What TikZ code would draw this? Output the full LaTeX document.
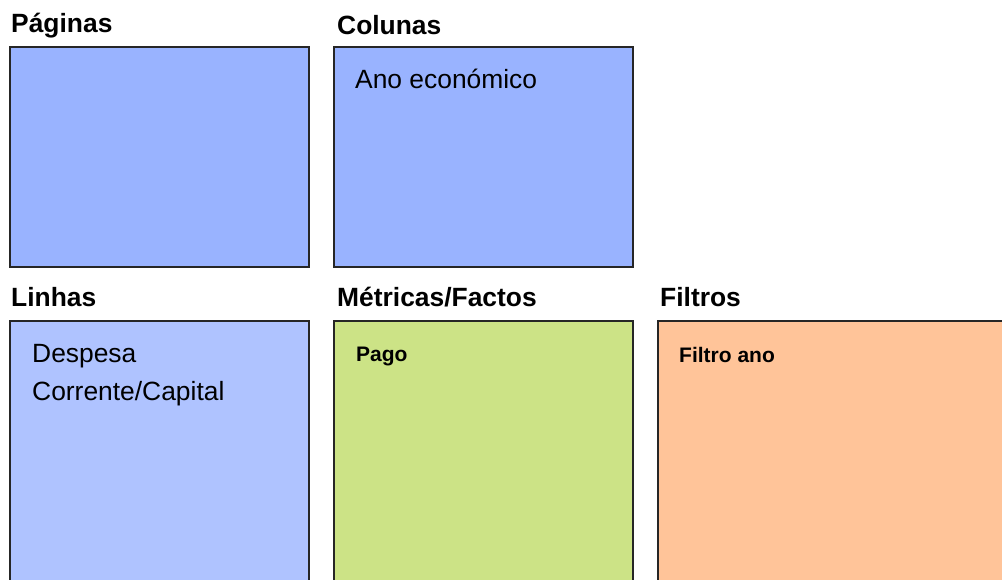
\documentclass[tikz,border=0pt]{standalone}
\usepackage{fontspec}
\setmainfont{Liberation Sans}
\definecolor{topblue}{RGB}{153,179,255}
\definecolor{lineblue}{RGB}{175,195,255}
\definecolor{factgreen}{RGB}{204,227,134}
\definecolor{filterorange}{RGB}{255,196,153}
\begin{document}
\begin{tikzpicture}[x=1pt,y=-1pt,
    panel/.style={draw=black!85,line width=1.3pt},
    heading/.style={anchor=base west,inner sep=0pt,font=\fontsize{26.4}{31}\selectfont\bfseries},
    entry/.style={anchor=base west,inner sep=0pt,font=\fontsize{26.4}{31}\selectfont},
    smallentry/.style={anchor=base west,inner sep=0pt,font=\fontsize{21}{25}\selectfont\bfseries}]
        \useasboundingbox (0,0) rectangle (1002,580);
        \clip (0,0) rectangle (1002,580);
        %% Panels
        \draw[panel,fill=topblue] (10,47) rectangle (309,267);
        \draw[panel,fill=topblue] (334,47) rectangle (633,267);
        \draw[panel,fill=lineblue] (10,321) rectangle (309,600);
        \draw[panel,fill=factgreen] (334,321) rectangle (633,600);
        \draw[panel,fill=filterorange] (658,321) rectangle (1020,600);
        %% Headings
        \node[heading] (paginas) at (11,33) {Páginas};
        \node[heading] (colunas) at (337,35) {Colunas};
        \node[heading] (linhas) at (11,306) {Linhas};
        \node[heading] (metricas) at (337,307) {Métricas/Factos};
        \node[heading] (filtros) at (660,307) {Filtros};
        %% Contents
        \node[entry] (ano) at (355,89) {Ano económico};
        \node[entry] (despesa) at (32,362) {Despesa};
        \node[entry] (corrente) at (32,400) {Corrente/Capital};
        \node[smallentry] (pago) at (356,361) {Pago};
        \node[smallentry] (filtroano) at (679,362) {Filtro ano};
    \end{tikzpicture}
\end{document}
